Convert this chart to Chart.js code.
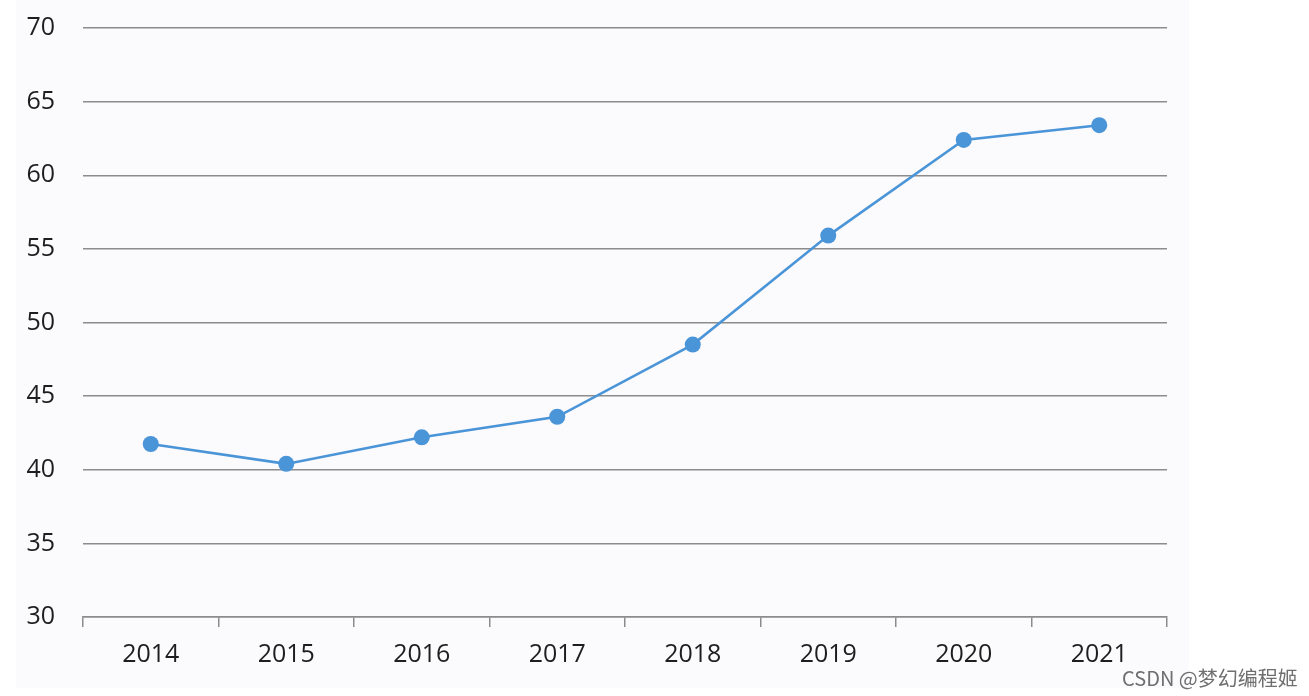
<!DOCTYPE html>
<html>
<head>
<meta charset="utf-8">
<script src="https://cdn.jsdelivr.net/npm/chart.js@4"></script>
<style>
  html, body { margin: 0; padding: 0; background: #ffffff; }
  #wrap { position: relative; width: 1309px; height: 696px; overflow: hidden; }
  #bg { position: absolute; left: 16px; top: 0; width: 1173px; height: 688px; background: #fbfafd; }
  #chart { position: absolute; left: 0; top: 0; }
  #mark { position: absolute; left: 1122px; top: 663px; font: 20px "Noto Sans CJK SC", "Liberation Sans", sans-serif; color: #6f6f6f; white-space: nowrap; }
</style>
</head>
<body>
<div id="wrap">
  <div id="bg"></div>
  <canvas id="chart" width="1309" height="696"></canvas>
  <div id="mark">CSDN @梦幻编程姬</div>
</div>
<script>
var years = ["2014", "2015", "2016", "2017", "2018", "2019", "2020", "2021"];
var values = [41.75, 40.4, 42.2, 43.6, 48.5, 55.9, 62.4, 63.4];
var yMin = 30;
var yMax = 70;
var yStep = 5;

window.addEventListener('load', init);

function init() {
  var blue = '#4a94d8';
  var grey = '#8c8c8c';
  var labelFont = { family: '"Open Sans", sans-serif', size: 25 };

  new Chart(id('chart'), {
    type: 'line',
    data: {
      labels: years,
      datasets: [
        {
          data: values,
          borderColor: blue,
          backgroundColor: blue,
          borderWidth: 2.5,
          pointRadius: 8,
          pointBackgroundColor: blue,
          pointBorderWidth: 0,
          tension: 0
        }
      ]
    },
    options: {
      responsive: false,
      animation: false,
      layout: { padding: { top: 28, right: 142, left: 0, bottom: 0 } },
      plugins: {
        legend: { display: false },
        tooltip: { enabled: false }
      },
      scales: {
        x: {
          offset: true,
          grid: {
            offset: true,
            drawOnChartArea: false,
            drawTicks: true,
            tickLength: 10,
            color: grey,
            lineWidth: 1.5
          },
          border: { display: true, color: grey, width: 1.5 },
          ticks: { color: '#1e1e1e', font: labelFont, padding: 13, maxRotation: 0 },
          afterFit: function(scale) { scale.height = 79; }
        },
        y: {
          min: yMin,
          max: yMax,
          grid: { color: grey, lineWidth: 1.5, drawTicks: false },
          border: { display: false },
          ticks: { stepSize: yStep, color: '#1e1e1e', font: labelFont, padding: 28 },
          afterFit: function(scale) {
            scale.width = 83;
            scale.paddingTop = 0;
            scale.paddingBottom = 0;
          }
        }
      }
    }
  });
}

function id(id) {
  return document.getElementById(id);
}
</script>
</body>
</html>
